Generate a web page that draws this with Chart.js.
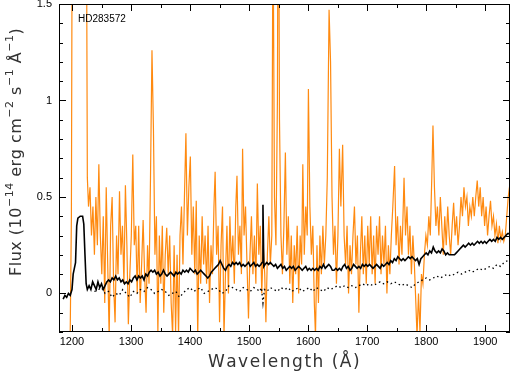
<!DOCTYPE html>
<html>
<head>
<meta charset="utf-8">
<script src="https://cdn.jsdelivr.net/npm/chart.js@4.4.0/dist/chart.umd.min.js"></script>
<style>
  html, body { margin: 0; padding: 0; background: #fff; }
  #wrap { width: 511px; height: 375px; position: relative; }
  #wrap canvas { position: absolute; left: 0; top: 0; }
  #frame { pointer-events: none; }
</style>
</head>
<body>
<div id="wrap">
  <canvas id="chart" width="511" height="375"></canvas>
  <canvas id="frame" width="511" height="375"></canvas>
</div>
<script>
// Observed spectrum (orange)
const orangeWave = [
  1194, 1197, 1199, 1200.5, 1203, 1208, 1213, 1218, 1222, 1224.5,
  1226, 1228, 1230.5, 1233, 1235.5, 1238, 1240.5, 1243, 1245.5, 1248,
  1250.5, 1253, 1255.5, 1258, 1260.5, 1263, 1265.5, 1268, 1270.5, 1273,
  1275.5, 1278, 1280.5, 1283, 1285.5, 1288, 1290.5, 1293, 1295.5, 1298,
  1300.5, 1303, 1305.5, 1308, 1310.5, 1313, 1315.5, 1318, 1320.5, 1323,
  1325.5, 1328, 1330.5, 1333, 1335.5, 1338, 1340.5, 1343, 1345.5, 1348,
  1350.5, 1353, 1355.5, 1358, 1360.5, 1363, 1365.5, 1368, 1370.5, 1373,
  1375.5, 1378, 1380.5, 1383, 1385.5, 1388, 1390.5, 1393, 1395.5, 1398,
  1400.5, 1403, 1405.5, 1408, 1410.5, 1413, 1415.5, 1418, 1420.5, 1423,
  1425.5, 1428, 1430.5, 1433, 1435.5, 1438, 1440.5, 1442.5, 1445, 1447.5,
  1450, 1452.5, 1455, 1457.5, 1460, 1462.5, 1465, 1467.5, 1470, 1472.5,
  1475, 1477.5, 1479.5, 1482, 1484.5, 1487, 1489, 1491.5, 1494, 1496.5,
  1499, 1501.5, 1504, 1506.5, 1509, 1511.5, 1514, 1516.5, 1519, 1521.5,
  1524, 1526.5, 1528.5, 1531, 1533.5, 1536, 1538.5, 1540.5, 1543, 1545.5,
  1548, 1549.5, 1551.5, 1554, 1556.5, 1559, 1561.5, 1564, 1566.5, 1569,
  1571.5, 1574, 1576.5, 1579, 1581.5, 1584, 1586.5, 1589, 1591, 1593.5,
  1596, 1598.5, 1600.5, 1603, 1605.5, 1608, 1610.5, 1612.5, 1615, 1617.5,
  1620, 1622.5, 1625, 1627.5, 1630, 1632.5, 1635.5, 1638, 1640.5, 1643,
  1645.5, 1648, 1650.5, 1653, 1655.5, 1658.5, 1661, 1663.5, 1666, 1668.5,
  1671, 1673.5, 1676, 1678.5, 1681, 1683.5, 1686, 1688.5, 1691, 1693.5,
  1696, 1698.5, 1701, 1703.5, 1706, 1708.5, 1711, 1713.5, 1716, 1718.5,
  1721, 1723.5, 1726, 1728.5, 1731, 1733.5, 1736, 1738.5, 1741, 1743.5,
  1746.5, 1749, 1751.5, 1754, 1756.5, 1759, 1762.5, 1765, 1767.5, 1770,
  1772.5, 1775, 1777.5, 1780, 1782.5, 1784.5, 1787, 1789.5, 1792, 1794.5,
  1797, 1799.5, 1802, 1804.5, 1807, 1809.5, 1811.5, 1814, 1816.5, 1819,
  1821.5, 1824, 1826.5, 1829, 1831.5, 1834, 1836.5, 1839, 1841.5, 1844,
  1846.5, 1849, 1851.5, 1854, 1856.5, 1859, 1861.5, 1864, 1866.5, 1869,
  1871.5, 1874, 1876.5, 1879, 1881.5, 1884, 1886.5, 1889, 1891.5, 1894,
  1896.5, 1899, 1901.5, 1904, 1906.5, 1909, 1911.5, 1914, 1916.5, 1919,
  1921.5, 1924, 1926.5, 1929, 1931.5, 1934, 1936.5, 1939, 1941.5, 1943
];
const orangeFlux = [
  -0.3, -0.2, 0.4, 2.2, 3.0, 3.2, 3.5, 3.2, 2.8, 2.0,
  0.6, 0.45, 0.55, 0.3, 0.45, 0.2, 0.5, 0.25, 0.67, 0.3,
  0.1, 0.4, -0.05, 0.55, 0.15, -0.22, 0.35, 0.5, 0.05, -0.15,
  0.3, 0.1, 0.53, 0.2, 0.35, 0.05, 0.56, 0.25, -0.16, 0.1,
  0.3, 0.72, 0.25, 0.35, 0.0, 0.35, -0.05, 0.15, 0.38, 0.1,
  -0.1, 0.25, 0.05, 0.6, 1.26, 0.85, 0.2, 0.4, -0.2, 0.3,
  0.05, 0.35, -0.1, 0.2, 0.34, 0.1, 0.3, -0.05, -0.22, 0.25,
  -0.2, 0.2, -0.22, 0.3, 0.45, 0.15, 0.5, 0.83, 0.3, 0.55,
  0.71, 0.2, 0.45, 0.1, 0.48, -0.22, 0.3, 0.05, 0.4, 0.15,
  0.3, 0.05, 0.35, -0.05, 0.25, 0.1, 0.45, 0.63, 0.2, 0.35,
  -0.15, 0.25, 0.45, -0.22, 0.1, 0.35, 0.0, 0.4, 0.15, 0.3,
  0.05, 0.45, 0.61, 0.2, 0.35, 0.1, 0.75, 0.3, 0.45, 0.15,
  -0.13, 0.2, 0.4, 0.1, 0.3, 0.05, 0.57, 0.2, 0.35, 0.0,
  0.25, 0.1, -0.15, 0.2, 0.4, 0.15, 0.3, 2.0, 0.5, 0.25,
  1.0, 2.6, 0.9, 0.3, 0.1, 0.35, 0.73, 0.2, 0.4, 0.05,
  0.3, -0.05, 0.25, 0.1, 0.35, 0.0, 0.3, 0.15, 0.67, 0.2,
  0.45, 0.3, 1.06, 0.45, 0.2, 0.35, -0.05, -0.22, 0.25, -0.05,
  0.3, 0.1, 0.35, 0.15, 0.3, 0.6, 1.47, 1.2, 0.5, 0.2,
  0.35, 0.05, 0.3, 0.75, 0.45, 0.77, 0.3, 0.15, 0.35, 0.0,
  0.25, 0.1, 0.3, 0.45, 0.15, 0.3, -0.1, 0.2, 0.4, 0.1,
  0.3, 0.05, 0.35, 0.15, 0.4, 0.1, 0.3, 0.05, 0.35, 0.2,
  0.4, 0.1, 0.3, 0.15, 0.35, 0.0, 0.25, 0.1, 0.3, 0.45,
  0.66, 0.25, 0.4, 0.15, 0.35, 0.2, 0.6, 0.3, 0.45, 0.2,
  0.35, 0.1, 0.3, 0.15, -0.05, -0.22, 0.0, -0.2, 0.1, 0.05,
  0.2, 0.3, 0.25, 0.4, 0.3, 0.6, 0.87, 0.55, 0.35, 0.45,
  0.3, 0.5, 0.35, 0.2, 0.4, 0.25, 0.45, 0.3, 0.2, 0.35,
  0.47, 0.3, 0.4, 0.25, 0.35, 0.5, 0.4, 0.55, 0.45, 0.5,
  0.35, 0.45, 0.4, 0.5, 0.4, 0.5, 0.585, 0.45, 0.55, 0.4,
  0.5, 0.35, 0.45, 0.3, 0.4, 0.48, 0.35, 0.4, 0.3, 0.36,
  0.26, 0.35, 0.28, 0.32, 0.27, 0.3, 0.4, 0.5, 0.56, 0.55
];

// Model / smoothed spectrum (black solid)
const modelWave = [
  1185, 1188, 1191, 1194, 1197, 1200, 1202, 1204, 1206, 1208,
  1210, 1214, 1218, 1220, 1222, 1224, 1226, 1229, 1232, 1235,
  1238, 1241, 1244, 1247, 1250, 1253, 1256, 1259, 1262, 1265,
  1268, 1271, 1274, 1277, 1280, 1283, 1286, 1289, 1292, 1295,
  1298, 1301, 1304, 1307, 1310, 1313, 1316, 1319, 1322, 1325,
  1328, 1331, 1334, 1337, 1340, 1343, 1346, 1349, 1352, 1355,
  1358, 1361, 1364, 1367, 1370, 1373, 1376, 1379, 1382, 1385,
  1388, 1391, 1394, 1397, 1400, 1403, 1406, 1409, 1412, 1415,
  1418, 1421, 1424, 1427, 1430, 1433, 1436, 1439, 1442, 1445,
  1448, 1451, 1454, 1457, 1460, 1463, 1466, 1469, 1472, 1475,
  1478, 1481, 1484, 1487, 1490, 1493, 1496, 1499, 1502, 1505,
  1508, 1511, 1514, 1517, 1520, 1522, 1523.5, 1525, 1527, 1530,
  1533, 1536, 1539, 1542, 1545, 1548, 1551, 1554, 1557, 1560,
  1563, 1566, 1569, 1572, 1575, 1578, 1581, 1584, 1587, 1590,
  1593, 1596, 1599, 1602, 1605, 1608, 1611, 1614, 1617, 1620,
  1623, 1626, 1629, 1632, 1635, 1638, 1641, 1644, 1647, 1650,
  1653, 1656, 1659, 1662, 1665, 1668, 1671, 1674, 1677, 1680,
  1683, 1686, 1689, 1692, 1695, 1698, 1701, 1704, 1707, 1710,
  1713, 1716, 1719, 1722, 1725, 1728, 1731, 1734, 1737, 1740,
  1743, 1746, 1749, 1752, 1755, 1758, 1761, 1764, 1767, 1770,
  1773, 1776, 1779, 1782, 1785, 1788, 1791, 1794, 1797, 1800,
  1803, 1806, 1809, 1812, 1815, 1818, 1821, 1824, 1827, 1830,
  1833, 1836, 1839, 1842, 1845, 1848, 1851, 1854, 1857, 1860,
  1863, 1866, 1869, 1872, 1875, 1878, 1881, 1884, 1887, 1890,
  1893, 1896, 1899, 1902, 1905, 1908, 1911, 1914, 1917, 1920,
  1923, 1926, 1929, 1932, 1935, 1938, 1941, 1943
];
const modelFlux = [
  -0.03, -0.01, -0.02, 0.0, -0.01, 0.02, 0.1, 0.13, 0.16, 0.35,
  0.39, 0.40, 0.40, 0.36, 0.2, 0.05, 0.02, 0.04, 0.02, 0.06,
  0.04, 0.02, 0.06, 0.03, 0.05, 0.02, 0.04, 0.06, 0.07, 0.06,
  0.08, 0.07, 0.09, 0.07, 0.08, 0.06, 0.07, 0.05, 0.06, 0.05,
  0.07, 0.06, 0.08, 0.09, 0.07, 0.09, 0.08, 0.09, 0.07, 0.10,
  0.09, 0.11, 0.12, 0.11, 0.12, 0.10, 0.11, 0.09, 0.10, 0.12,
  0.10, 0.09, 0.10, 0.11, 0.10, 0.09, 0.11, 0.10, 0.11, 0.10,
  0.12, 0.11, 0.12, 0.11, 0.13, 0.12, 0.11, 0.12, 0.10, 0.11,
  0.12, 0.11, 0.10, 0.09, 0.08, 0.09, 0.11, 0.12, 0.13, 0.14,
  0.15, 0.17, 0.15, 0.13, 0.12, 0.14, 0.15, 0.14, 0.16, 0.15,
  0.16, 0.15, 0.16, 0.14, 0.15, 0.14, 0.15, 0.16, 0.14, 0.15,
  0.16, 0.14, 0.15, 0.14, 0.15, 0.16, 0.46, 0.14, 0.15, 0.16,
  0.15, 0.16, 0.15, 0.14, 0.15, 0.13, 0.14, 0.15, 0.13, 0.14,
  0.12, 0.13, 0.14, 0.13, 0.14, 0.12, 0.13, 0.14, 0.13, 0.12,
  0.13, 0.14, 0.12, 0.13, 0.12, 0.13, 0.12, 0.13, 0.12, 0.14,
  0.13, 0.15, 0.13, 0.14, 0.15, 0.14, 0.12, 0.12, 0.13, 0.12,
  0.13, 0.12, 0.14, 0.15, 0.13, 0.14, 0.12, 0.13, 0.15, 0.14,
  0.13, 0.14, 0.13, 0.15, 0.14, 0.15, 0.14, 0.15, 0.14, 0.13,
  0.14, 0.15, 0.14, 0.13, 0.15, 0.14, 0.15, 0.16, 0.15, 0.17,
  0.16, 0.18, 0.17, 0.19, 0.18, 0.17, 0.18, 0.17, 0.18, 0.19,
  0.18, 0.19, 0.18, 0.17, 0.18, 0.15, 0.18, 0.19, 0.20, 0.21,
  0.20, 0.22, 0.21, 0.24, 0.22, 0.21, 0.22, 0.21, 0.23, 0.22,
  0.20, 0.21, 0.20, 0.20, 0.20, 0.20, 0.21, 0.22, 0.23, 0.24,
  0.25, 0.24, 0.25, 0.26, 0.25, 0.26, 0.25, 0.26, 0.27, 0.26,
  0.27, 0.26, 0.27, 0.26, 0.27, 0.28, 0.27, 0.28, 0.27, 0.29,
  0.28, 0.29, 0.28, 0.29, 0.30, 0.31, 0.31, 0.31
];

// Second model (black dotted)
const dottedWave = [
  1238, 1245, 1250, 1256, 1262, 1268, 1274, 1280, 1286, 1292,
  1298, 1304, 1310, 1316, 1322, 1328, 1334, 1340, 1346, 1352,
  1358, 1364, 1370, 1376, 1382, 1388, 1394, 1400, 1406, 1412,
  1418, 1424, 1430, 1436, 1442, 1448, 1454, 1460, 1466, 1472,
  1478, 1484, 1490, 1496, 1502, 1508, 1514, 1518, 1521, 1523.5,
  1526, 1530, 1536, 1542, 1548, 1554, 1560, 1566, 1572, 1578,
  1584, 1590, 1596, 1602, 1608, 1614, 1620, 1626, 1632, 1638,
  1644, 1650, 1656, 1662, 1668, 1674, 1680, 1686, 1692, 1698,
  1704, 1710, 1716, 1722, 1728, 1734, 1740, 1746, 1752, 1758,
  1764, 1770, 1776, 1782, 1788, 1794, 1800, 1806, 1812, 1818,
  1824, 1830, 1836, 1842, 1848, 1854, 1860, 1866, 1872, 1878,
  1884, 1890, 1896, 1902, 1908, 1914, 1920, 1926, 1932, 1938, 1943
];
const dottedFlux = [
  0.01, 0.02, 0.03, 0.0, 0.01, -0.02, 0.0, -0.01, 0.02, 0.0,
  -0.02, 0.01, 0.0, 0.02, 0.01, 0.03, 0.02, 0.0, 0.01, 0.02,
  0.01, -0.01, 0.0, 0.01, -0.02, 0.0, 0.02, 0.03, 0.01, 0.02,
  0.03, 0.0, 0.01, 0.02, 0.03, 0.02, 0.0, 0.01, 0.04, 0.03,
  0.02, 0.01, 0.03, 0.02, 0.01, 0.03, 0.02, 0.01, 0.03, -0.05,
  0.02, 0.01, 0.03, 0.02, 0.01, 0.03, 0.02, 0.03, 0.01, 0.02,
  0.03, 0.01, 0.02, 0.03, 0.01, 0.03, 0.02, 0.01, 0.03, 0.02,
  0.03, 0.04, 0.03, 0.04, 0.03, 0.04, 0.03, 0.04, 0.05, 0.04,
  0.05, 0.04, 0.05, 0.06, 0.05, 0.06, 0.05, 0.06, 0.05, 0.04,
  0.05, 0.04, 0.03, 0.05, 0.06, 0.07, 0.08, 0.07, 0.08, 0.09,
  0.08, 0.09, 0.10, 0.09, 0.10, 0.11, 0.10, 0.11, 0.12, 0.11,
  0.12, 0.13, 0.12, 0.13, 0.14, 0.13, 0.15, 0.14, 0.16, 0.17, 0.16
];

const xMin = 1178, xMax = 1942;
const yMin = -0.2, yMax = 1.5;
const xLabelTicks = [1200, 1300, 1400, 1500, 1600, 1700, 1800, 1900];
const yLabelTicks = [0, 0.5, 1, 1.5];
const starName = 'HD283572';

function toPoints(xs, ys) {
    return xs.map((x, i) => ({ x, y: ys[i] }));
}

// draw text one glyph at a time with extra spacing between glyphs
function spacedText(ctx, text, x, y, spacing) {
    let cx = x;
    for (const ch of text) {
        ctx.fillText(ch, cx, y);
        cx += ctx.measureText(ch).width + spacing;
    }
    return cx - x;
}
function spacedWidth(ctx, text, spacing) {
    let w = 0;
    for (const ch of text) w += ctx.measureText(ch).width + spacing;
    return w;
}

// axis titles and the star label
const textPlugin = {
    id: 'texts',
    afterDraw(chart) {
        const ctx = chart.ctx;
        const xs = chart.scales.x;
        ctx.save();
        ctx.fillStyle = '#000';
        ctx.font = '10px "Liberation Sans", Arial, sans-serif';
        ctx.textBaseline = 'alphabetic';
        ctx.textAlign = 'left';
        ctx.fillText(starName, 78, 22);

        ctx.fillStyle = '#333';
        ctx.font = '17px "DejaVu Sans", sans-serif';
        const xTitle = 'Wavelength (Å)';
        const tw = spacedWidth(ctx, xTitle, 1.5);
        spacedText(ctx, xTitle, (xs.left + xs.right) / 2 - tw / 2, 367, 1.5);

        ctx.translate(21, 276);
        ctx.rotate(-Math.PI / 2);
        const parts = [
            ['Flux (10', false], ['\u221214', true], [' erg cm', false], ['\u22122', true],
            [' s', false], ['\u22121', true], [' Å', false], ['\u22121', true], [')', false]
        ];
        let cx = 0;
        parts.forEach(([t, sup]) => {
            ctx.font = sup ? '11px "DejaVu Sans", sans-serif' : '16px "DejaVu Sans", sans-serif';
            cx += spacedText(ctx, t, cx, sup ? -8 : 0, 0.5);
        });
        ctx.restore();
    }
};

const chart = new Chart(document.getElementById('chart'), {
    type: 'line',
    data: {
        datasets: [
            {
                data: toPoints(modelWave, modelFlux),
                borderColor: '#000',
                borderWidth: 1.6
            },
            {
                data: toPoints(dottedWave, dottedFlux),
                borderColor: '#000',
                borderWidth: 1.3,
                borderDash: [1.5, 3]
            },
            {
                data: toPoints(orangeWave, orangeFlux),
                borderColor: '#ff8a10',
                borderWidth: 1.2
            }
        ]
    },
    options: {
        responsive: false,
        animation: false,
        elements: { point: { radius: 0 }, line: { tension: 0 } },
        layout: { padding: { top: 4, right: 1, left: 0, bottom: 0 } },
        plugins: { legend: { display: false }, tooltip: { enabled: false } },
        scales: {
            x: {
                type: 'linear',
                min: xMin,
                max: xMax,
                grid: { display: false, drawTicks: false },
                border: { display: false },
                afterBuildTicks: (s) => { s.ticks = xLabelTicks.map(v => ({ value: v })); },
                afterFit: (s) => { s.height = 43; s.paddingLeft = 0; s.paddingRight = 0; },
                ticks: {
                    color: '#000',
                    padding: 3,
                    maxRotation: 0,
                    autoSkip: false,
                    font: { family: '"Liberation Sans", Arial, sans-serif', size: 11 },
                    callback: (v) => String(v)
                }
            },
            y: {
                type: 'linear',
                min: yMin,
                max: yMax,
                grid: { display: false, drawTicks: false },
                border: { display: false },
                afterBuildTicks: (s) => { s.ticks = yLabelTicks.map(v => ({ value: v })); },
                afterFit: (s) => { s.width = 59; s.paddingTop = 0; s.paddingBottom = 0; },
                ticks: {
                    color: '#000',
                    padding: 7,
                    autoSkip: false,
                    font: { family: '"Liberation Sans", Arial, sans-serif', size: 11 },
                    callback: (v) => String(v)
                }
            }
        }
    },
    plugins: [textPlugin]
});

// frame and inward ticks on all four sides, drawn on an overlay canvas
// from the chart's own scales
function drawFrame() {
    const ctx = document.getElementById('frame').getContext('2d');
    const xs = chart.scales.x, ys = chart.scales.y;
    const L = Math.round(xs.getPixelForValue(xMin));
    const R = Math.round(xs.getPixelForValue(xMax));
    const T = Math.round(ys.getPixelForValue(yMax));
    const B = Math.round(ys.getPixelForValue(yMin));
    ctx.clearRect(0, 0, 511, 375);
    ctx.fillStyle = '#000';
    ctx.fillRect(L, T, R - L, 1);
    ctx.fillRect(L, B - 1, R - L, 1);
    ctx.fillRect(L, T, 1, B - T);
    ctx.fillRect(R - 1, T, 1, B - T);
    for (let w = 1200; w <= 1940; w += 50) {
        const px = Math.round(xs.getPixelForValue(w));
        const len = w % 100 === 0 ? 7 : 4;
        ctx.fillRect(px, B - len, 1, len);
        ctx.fillRect(px, T, 1, len);
    }
    for (let k = -2; k <= 15; k++) {
        const py = Math.round(ys.getPixelForValue(k / 10));
        const len = k % 5 === 0 ? 7 : 4;
        ctx.fillRect(L, py, len, 1);
        ctx.fillRect(R - len, py, len, 1);
    }
}
drawFrame();
</script>
</body>
</html>
